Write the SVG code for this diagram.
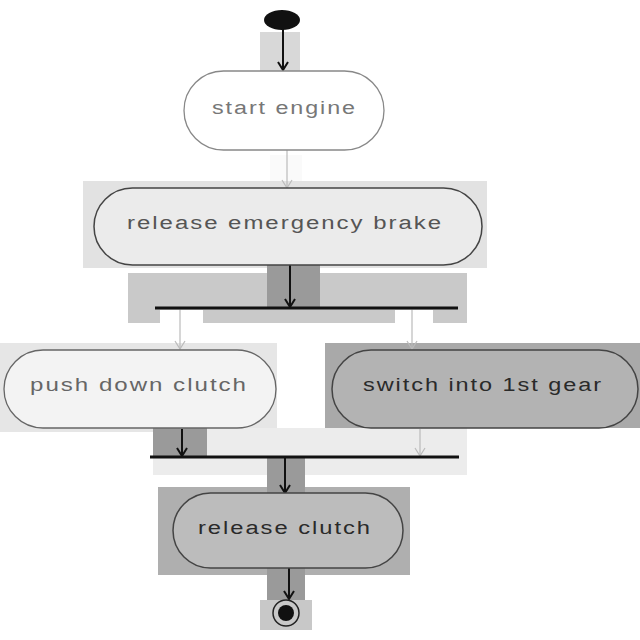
<svg xmlns="http://www.w3.org/2000/svg" width="640" height="640" viewBox="0 0 640 640">
<defs>
<marker id="arrd" markerWidth="12" markerHeight="12" refX="11" refY="6" orient="auto" markerUnits="userSpaceOnUse" viewBox="0 0 12 12">
<polyline points="3,1 11,6 3,11" fill="none" stroke="#111" stroke-width="2"/>
</marker>
<marker id="arrl" markerWidth="12" markerHeight="12" refX="11" refY="6" orient="auto" markerUnits="userSpaceOnUse" viewBox="0 0 12 12">
<polyline points="3,1 11,6 3,11" fill="none" stroke="#bbb" stroke-width="1.2"/>
</marker>
</defs>
<style>
.lbl{font-family:"Liberation Sans",Arial,sans-serif;font-size:18px;letter-spacing:1.5px}
.node{stroke:#444;stroke-width:1.5}
.bar{stroke:#111;stroke-width:3}
.cd{stroke:#111;stroke-width:2;fill:none}
.cl{stroke:#bbb;stroke-width:1.2;fill:none}
</style>
<rect width="640" height="640" fill="#fff"/>
<g id="highlights">
<rect x="260" y="32" width="40" height="40" fill="#d8d8d8"/>
<rect x="270" y="155" width="32" height="33" fill="#fafafa"/>
<rect x="83" y="181" width="404" height="87" fill="#e2e2e2"/>
<rect x="128" y="273" width="339" height="50" fill="#c9c9c9"/>
<rect x="160" y="310" width="43" height="14" fill="#fff"/>
<rect x="395" y="310" width="38" height="14" fill="#fff"/>
<rect x="267" y="265" width="53" height="42" fill="#9a9a9a"/>
<rect x="0" y="343" width="277" height="89" fill="#e6e6e6"/>
<rect x="325" y="343" width="315" height="85" fill="#a9a9a9"/>
<rect x="153" y="428" width="314" height="47" fill="#ececec"/>
<rect x="153" y="428" width="54" height="28" fill="#9a9a9a"/>
<rect x="158" y="487" width="252" height="88" fill="#afafaf"/>
<rect x="267" y="456" width="38" height="38" fill="#9a9a9a"/>
<rect x="267" y="568" width="38" height="32" fill="#9a9a9a"/>
<rect x="260" y="600" width="52" height="30" fill="#c8c8c8"/>
</g>
<g id="connectors">
<line x1="283" y1="28" x2="283" y2="70" class="cd" marker-end="url(#arrd)"/>
<line x1="287" y1="150" x2="287" y2="188" class="cl" marker-end="url(#arrl)"/>
<line x1="290" y1="265" x2="290" y2="307" class="cd" marker-end="url(#arrd)"/>
<line x1="180" y1="309" x2="180" y2="349" class="cl" marker-end="url(#arrl)"/>
<line x1="412" y1="309" x2="412" y2="349" class="cl" marker-end="url(#arrl)"/>
<line x1="182" y1="429" x2="182" y2="456" class="cd" marker-end="url(#arrd)"/>
<line x1="420" y1="429" x2="420" y2="456" class="cl" marker-end="url(#arrl)"/>
<line x1="285" y1="458" x2="285" y2="493" class="cd" marker-end="url(#arrd)"/>
<line x1="289" y1="568" x2="289" y2="599" class="cd" marker-end="url(#arrd)"/>
</g>
<g id="start">
<ellipse cx="282" cy="20" rx="18" ry="10" fill="#111"/>
</g>
<g id="start-engine">
<rect x="184" y="71" width="200" height="79" rx="39.5" fill="#fff" stroke="#888" stroke-width="1.3"/>
<text class="lbl" x="212" y="114" textLength="145" lengthAdjust="spacingAndGlyphs" fill="#777">start engine</text>
</g>
<g id="release-brake">
<rect x="94" y="188" width="388" height="77" rx="38.5" fill="#ebebeb" class="node"/>
<text class="lbl" x="127" y="229" textLength="316" lengthAdjust="spacingAndGlyphs" fill="#555">release emergency brake</text>
</g>
<g id="fork">
<line x1="155" y1="308" x2="458" y2="308" class="bar"/>
</g>
<g id="push-clutch">
<rect x="4" y="350" width="272" height="78" rx="39" fill="#f3f3f3" stroke="#666" stroke-width="1.3"/>
<text class="lbl" x="30" y="391" textLength="218" lengthAdjust="spacingAndGlyphs" fill="#666">push down clutch</text>
</g>
<g id="switch-gear">
<rect x="332" y="350" width="306" height="78" rx="39" fill="#b3b3b3" class="node" stroke="#333"/>
<text class="lbl" x="363" y="391" textLength="240" lengthAdjust="spacingAndGlyphs" fill="#2a2a2a">switch into 1st gear</text>
</g>
<g id="join">
<line x1="150" y1="457" x2="459" y2="457" class="bar"/>
</g>
<g id="release-clutch">
<rect x="173" y="493" width="230" height="75" rx="37.5" fill="#bcbcbc" class="node" stroke="#333"/>
<text class="lbl" x="198" y="534" textLength="174" lengthAdjust="spacingAndGlyphs" fill="#2a2a2a">release clutch</text>
</g>
<g id="end">
<circle cx="286" cy="613" r="13" fill="none" stroke="#222" stroke-width="1.5"/>
<circle cx="286" cy="613" r="8" fill="#111"/>
</g>
</svg>
